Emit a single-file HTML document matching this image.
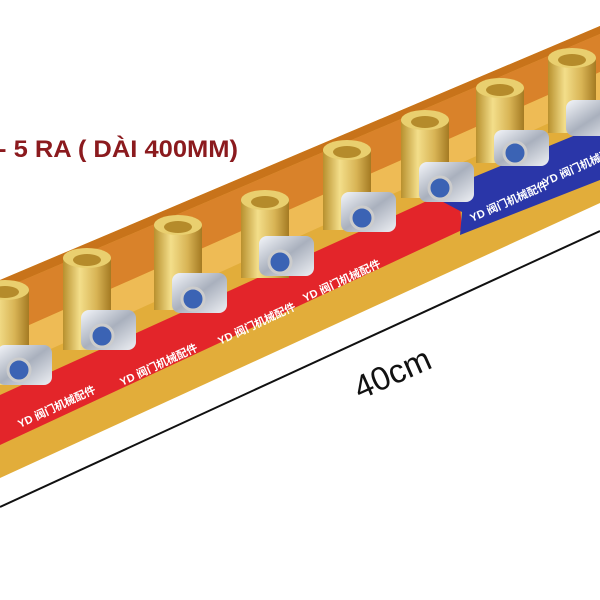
<!DOCTYPE html>
<html><head><meta charset="utf-8"><style>
html,body{margin:0;padding:0;background:#fff;width:600px;height:600px;overflow:hidden}
</style></head><body>
<svg width="600" height="600" viewBox="0 0 600 600" xmlns="http://www.w3.org/2000/svg" font-family="Liberation Sans, sans-serif">
<defs>
<linearGradient id="brass" x1="0" x2="1" y1="0" y2="0">
<stop offset="0" stop-color="#b8902e"/><stop offset="0.35" stop-color="#f3de8a"/><stop offset="0.7" stop-color="#d8b455"/><stop offset="1" stop-color="#a47a22"/>
</linearGradient>
<linearGradient id="silver" x1="0" x2="1" y1="0" y2="1">
<stop offset="0" stop-color="#f4f6fa"/><stop offset="0.5" stop-color="#a9b0bd"/><stop offset="1" stop-color="#eef0f4"/>
</linearGradient>
</defs>
<polygon points="0,280 600,26 600,203 0,478" fill="#e2ad3a"/>
<polygon points="0,280 600,26 600,34 0,290" fill="#c8731a"/>
<polygon points="0,290 600,34 600,72 0,338" fill="#d9822a"/>
<polygon points="0,338 600,72 600,100 0,372" fill="#eebb55"/>
<polygon points="0,395 440,195 460,205 462,230 0,445" fill="#e3252a"/>
<polygon points="430,195 600,125 600,180 460,235 462,212" fill="#2a36a8"/>
<g>
<g transform="translate(5,290)"><rect x="-24" y="0" width="48" height="95" fill="url(#brass)"/><ellipse cx="0" cy="0" rx="24" ry="10" fill="#e9cf6f"/><ellipse cx="0" cy="2" rx="14" ry="6" fill="#b58b2b"/><rect x="-8" y="55" width="55" height="40" rx="8" fill="url(#silver)"/><circle cx="14" cy="80" r="11" fill="#3b63b4" stroke="#ccc" stroke-width="3"/></g>
<g transform="translate(87,258)"><rect x="-24" y="0" width="48" height="92" fill="url(#brass)"/><ellipse cx="0" cy="0" rx="24" ry="10" fill="#e9cf6f"/><ellipse cx="0" cy="2" rx="14" ry="6" fill="#b58b2b"/><rect x="-6" y="52" width="55" height="40" rx="8" fill="url(#silver)"/><circle cx="15" cy="78" r="11" fill="#3b63b4" stroke="#ccc" stroke-width="3"/></g>
<g transform="translate(178,225)"><rect x="-24" y="0" width="48" height="85" fill="url(#brass)"/><ellipse cx="0" cy="0" rx="24" ry="10" fill="#e9cf6f"/><ellipse cx="0" cy="2" rx="14" ry="6" fill="#b58b2b"/><rect x="-6" y="48" width="55" height="40" rx="8" fill="url(#silver)"/><circle cx="15" cy="74" r="11" fill="#3b63b4" stroke="#ccc" stroke-width="3"/></g>
<g transform="translate(265,200)"><rect x="-24" y="0" width="48" height="78" fill="url(#brass)"/><ellipse cx="0" cy="0" rx="24" ry="10" fill="#e9cf6f"/><ellipse cx="0" cy="2" rx="14" ry="6" fill="#b58b2b"/><rect x="-6" y="36" width="55" height="40" rx="8" fill="url(#silver)"/><circle cx="15" cy="62" r="11" fill="#3b63b4" stroke="#ccc" stroke-width="3"/></g>
<g transform="translate(347,150)"><rect x="-24" y="0" width="48" height="80" fill="url(#brass)"/><ellipse cx="0" cy="0" rx="24" ry="10" fill="#e9cf6f"/><ellipse cx="0" cy="2" rx="14" ry="6" fill="#b58b2b"/><rect x="-6" y="42" width="55" height="40" rx="8" fill="url(#silver)"/><circle cx="15" cy="68" r="11" fill="#3b63b4" stroke="#ccc" stroke-width="3"/></g>
<g transform="translate(425,120)"><rect x="-24" y="0" width="48" height="78" fill="url(#brass)"/><ellipse cx="0" cy="0" rx="24" ry="10" fill="#e9cf6f"/><ellipse cx="0" cy="2" rx="14" ry="6" fill="#b58b2b"/><rect x="-6" y="42" width="55" height="40" rx="8" fill="url(#silver)"/><circle cx="15" cy="68" r="11" fill="#3b63b4" stroke="#ccc" stroke-width="3"/></g>
<g transform="translate(500,88)"><rect x="-24" y="0" width="48" height="75" fill="url(#brass)"/><ellipse cx="0" cy="0" rx="24" ry="10" fill="#e9cf6f"/><ellipse cx="0" cy="2" rx="14" ry="6" fill="#b58b2b"/><rect x="-6" y="42" width="55" height="36" rx="8" fill="url(#silver)"/><circle cx="15" cy="65" r="11" fill="#3b63b4" stroke="#ccc" stroke-width="3"/></g>
<g transform="translate(572,58)"><rect x="-24" y="0" width="48" height="75" fill="url(#brass)"/><ellipse cx="0" cy="0" rx="24" ry="10" fill="#e9cf6f"/><ellipse cx="0" cy="2" rx="14" ry="6" fill="#b58b2b"/><rect x="-6" y="42" width="55" height="36" rx="8" fill="url(#silver)"/></g>
</g>
<g fill="#fff" font-size="11" font-weight="bold" font-family="Liberation Sans, Noto Sans CJK SC, sans-serif">
<text transform="translate(20,428) rotate(-25)">YD 阀门机械配件</text>
<text transform="translate(122,386) rotate(-25)">YD 阀门机械配件</text>
<text transform="translate(220,345) rotate(-25)">YD 阀门机械配件</text>
<text transform="translate(305,302) rotate(-25)">YD 阀门机械配件</text>
<text transform="translate(472,222) rotate(-24)">YD 阀门机械配件</text>
<text transform="translate(545,186) rotate(-24)">YD 阀门机械配件</text>
</g>
<line x1="0" y1="507" x2="600" y2="231" stroke="#111" stroke-width="2"/>
<text transform="translate(360,400) rotate(-24)" font-size="33" fill="#111">40cm</text>
<text x="-2" y="157" font-size="24" font-weight="bold" fill="#8b1a1e" textLength="240" lengthAdjust="spacingAndGlyphs" font-family="Liberation Sans, sans-serif">- 5 RA ( DÀI 400MM)</text>
</svg>
</body></html>
